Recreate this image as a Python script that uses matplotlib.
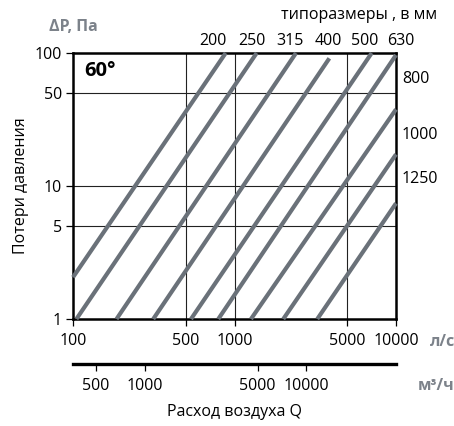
import numpy as np
import matplotlib
matplotlib.use("Agg")
import matplotlib.pyplot as plt

plt.rcParams['font.family'] = ['Open Sans', 'DejaVu Sans']

# Line endpoints: Q in l/s, dP in Pa
sizes = ["200", "250", "315", "400", "500", "630", "800", "1000", "1250"]
q_start = [100, 105, 186, 314, 538, 794, 1265, 2005, 3256]
dp_start = [2.06, 1, 1, 1, 1, 1, 1, 1, 1]
q_end = [882, 1372, 2404, 3865, 7072, 10000, 10000, 10000, 10000]
dp_end = [100, 100, 100, 91.2, 100, 96.6, 37.7, 17.3, 7.41]

x_ticks = [100, 500, 1000, 5000, 10000]
y_ticks = [1, 5, 10, 50, 100]
m3h_ticks = [500, 1000, 5000, 10000]

line_color = "#6a7179"
label_gray = "#7c828a"
fs = 11.5
W, H = 454, 426

fig = plt.figure(figsize=(W / 100, H / 100), dpi=100)
ax = fig.add_axes([73 / W, (H - 319) / H, 323 / W, 266 / H])
ax.set_xscale("log")
ax.set_yscale("log")
ax.set_xlim(100, 10000)
ax.set_ylim(1, 100)

# grid lines
for gx in [500, 1000, 5000]:
    ax.axvline(gx, color="#222222", lw=0.8, zorder=1)
for gy in [5, 10, 50]:
    ax.axhline(gy, color="#222222", lw=0.8, zorder=1)

for i in range(len(sizes)):
    ax.plot([q_start[i], q_end[i]], [dp_start[i], dp_end[i]], color=line_color,
            lw=3.0, solid_capstyle="butt", zorder=3, clip_on=False)

for s in ax.spines.values():
    s.set_linewidth(1.8)

ax.set_xticks(x_ticks)
ax.set_xticklabels([str(v) for v in x_ticks])
ax.set_yticks(y_ticks)
ax.set_yticklabels([str(v) for v in y_ticks])
ax.minorticks_off()
ax.tick_params(axis="x", direction="out", length=5, width=0.9, labelsize=fs, pad=5)
ax.tick_params(axis="y", direction="out", length=5, width=0.9, labelsize=fs, pad=3)
ax.set_ylabel("Потери давления", fontsize=fs, labelpad=4)

# second axis in m3/h
sec = ax.secondary_xaxis(-0.17, functions=(lambda q: q * 3.6, lambda m: m / 3.6))
sec.set_xticks(m3h_ticks)
sec.set_xticklabels([str(v) for v in m3h_ticks])
sec.minorticks_off()
sec.tick_params(direction="out", length=5, width=0.9, labelsize=fs, pad=5)
sec.spines["bottom"].set_linewidth(2.4)
sec.set_xlabel("Расход воздуха Q", fontsize=fs, labelpad=7)

# figure texts (pixel positions)
def ftext(x, y, s, **kw):
    fig.text(x / W, 1 - y / H, s, **kw)

ftext(100, 71, "60°", fontsize=14.5, fontweight="bold", ha="center", va="center")
ftext(73, 27, "ΔP, Па", fontsize=11.5, fontweight="bold", color=label_gray, ha="center", va="center")
ftext(359, 15, "типоразмеры , в мм", fontsize=fs, ha="center", va="center")
top_x = [213, 252, 290, 328, 365, 401]
for i in range(6):
    ftext(top_x[i], 41, sizes[i], fontsize=fs, ha="center", va="center")
right_y = [79, 135, 179]
for i in range(3):
    ftext(402, right_y[i], sizes[6 + i], fontsize=fs, ha="left", va="center")
ftext(430, 342, "л/с", fontsize=11.5, fontweight="bold", color=label_gray, ha="left", va="center")
ftext(418, 386, "м³/ч", fontsize=11.5, fontweight="bold", color=label_gray, ha="left", va="center")

fig.savefig("out.png", dpi=100)
